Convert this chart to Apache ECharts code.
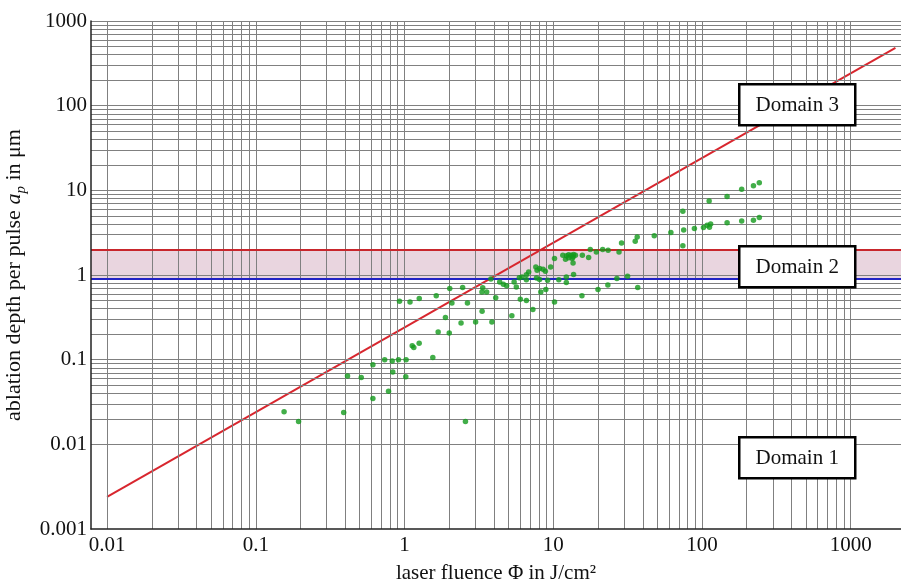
<!DOCTYPE html>
<html>
<head>
<meta charset="utf-8">
<script src="https://cdn.jsdelivr.net/npm/echarts@6/dist/echarts.min.js"></script>
<style>html,body{margin:0;padding:0;background:#fff}#chart{width:901px;height:583px}</style>
</head>
<body>
<div id="chart"></div>
<script>
// ---- data ----
const fluence = [0.155,0.194,0.39,0.414,0.512,0.613,0.613,0.736,0.781,0.827,0.834,0.911,1.025,1.02,1.127,1.155,1.255,1.55,1.684,2.0,2.40,1.885,2.57,0.926,1.089,1.257,1.635,2.015,2.084,2.46,2.65,3.007,3.325,3.87,3.357,3.316,3.571,4.105,5.27,6.01,6.60,7.30,10.2,8.25,8.92,3.81,4.365,4.62,4.86,5.46,5.65,5.92,6.17,6.60,6.84,6.60,7.64,7.79,8.10,8.54,7.72,8.10,8.85,9.61,10.2,9.17,10.9,11.6,12.3,12.7,13.2,12.1,12.7,12.25,12.25,13.7,13.7,14.1,13.6,13.4,13.6,15.7,17.3,17.75,19.5,21.5,23.4,27.7,28.8,35.6,36.7,47.8,61.8,26.8,31.6,20.0,23.3,37.0,15.6,74.4,74.4,111.8,147.6,185,222,243,75.4,89.0,102.4,108.4,114.4,112.3,147.6,185,222,243];
const depth = [0.0243,0.0186,0.0237,0.064,0.0614,0.087,0.0347,0.1,0.0423,0.0963,0.0714,0.1,0.1,0.063,0.146,0.139,0.156,0.106,0.212,0.206,0.271,0.3145,0.0186,0.49,0.481,0.528,0.569,0.692,0.468,0.712,0.468,0.279,0.373,0.279,0.708,0.63,0.63,0.539,0.33,0.518,0.501,0.391,0.48,0.631,0.676,0.897,0.829,0.779,0.747,0.829,0.723,0.929,0.95,1.008,1.085,0.88,1.247,1.14,1.193,1.171,0.924,0.885,1.109,1.247,1.567,0.868,0.88,1.714,1.69,1.738,1.714,1.537,1.60,0.95,0.815,1.014,1.747,1.714,1.637,1.567,1.39,1.714,1.61,2.0,1.875,2.0,1.964,1.875,2.39,2.51,2.82,2.90,3.18,0.909,0.968,0.676,0.764,0.712,0.569,5.68,2.21,7.46,8.47,10.3,11.3,12.3,3.39,3.55,3.64,3.88,3.99,3.67,4.13,4.33,4.44,4.78];
const thresholdX = [0.01, 2000];
const thresholdY = [0.0024, 480];
const domain2Lower = 0.9;
const domain2Upper = 2;
const domainLabels = ['Domain 3', 'Domain 2', 'Domain 1'];
const xDecades = [0.01, 0.1, 1, 10, 100];
const xLastTick = 1000;
const yDecades = [0.001, 0.01, 0.1, 1, 10, 100];
const yLastTick = 1000;
const xRange = [0.0078, 2180];
const yRange = [0.001, 1000];

// ---- build ----
const serif = '"Liberation Serif", "Times New Roman", serif';
const minorSteps = [1,2,3,4,5,6,7,8,9];
const xGrid = [];
xDecades.forEach(d => minorSteps.forEach(k => xGrid.push(+(d * k).toPrecision(6))));
xGrid.push(xLastTick);
const yGrid = [];
yDecades.forEach(d => minorSteps.forEach(k => yGrid.push(+(d * k).toPrecision(6))));
yGrid.push(yLastTick);

const points = fluence.map((f, i) => [f, depth[i]]);
const lineData = thresholdX.map((x, i) => [x, thresholdY[i]]);
const fmt = v => String(+(+v).toPrecision(6));

const chart = echarts.init(document.getElementById('chart'), null, {renderer: 'canvas'});
const boxTops = [83, 245, 436];
chart.setOption({
  animation: false,
  backgroundColor: '#fff',
  grid: {left: 91, top: 21, right: 0, bottom: 54, containLabel: false, outerBoundsMode: 'none'},
  xAxis: {
    type: 'log', logBase: 10, min: xRange[0], max: xRange[1], splitNumber: 5, z: 8,
    axisLine: {show: true, lineStyle: {color: '#222', width: 1.5}},
    axisTick: {show: false},
    splitLine: {show: false},
    axisLabel: {showMinLabel: false, showMaxLabel: false, color: '#111', fontFamily: serif, fontSize: 21, margin: 6, formatter: fmt},
    name: 'laser fluence Φ in J/cm²', nameLocation: 'middle', nameGap: 34,
    nameTextStyle: {color: '#111', fontFamily: serif, fontSize: 21}
  },
  yAxis: {
    type: 'log', logBase: 10, min: yRange[0], max: yRange[1], splitNumber: 6, z: 8,
    axisLine: {show: true, lineStyle: {color: '#222', width: 1.5}},
    axisTick: {show: false},
    splitLine: {show: false},
    axisLabel: {color: '#111', fontFamily: serif, fontSize: 21, margin: 4, formatter: fmt},
    name: '{n|ablation depth per pulse }{a|a}{p|p}{n| in μm}', nameLocation: 'middle', nameGap: 61,
    nameTextStyle: {
      color: '#111', fontFamily: serif, fontSize: 22,
      rich: {
        n: {fontFamily: serif, fontSize: 22, color: '#111', lineHeight: 30},
        a: {fontFamily: serif, fontSize: 22, color: '#111', fontStyle: 'italic', lineHeight: 30},
        p: {fontFamily: serif, fontSize: 15, color: '#111', fontStyle: 'italic', lineHeight: 15, verticalAlign: 'bottom'}
      }
    }
  },
  series: [
    {type: 'line', data: [], z: 1, silent: true,
     markArea: {silent: true, itemStyle: {color: '#e9d5df'}, data: [[{yAxis: domain2Lower}, {yAxis: domain2Upper}]]}},
    {type: 'line', data: [], z: 2, silent: true,
     markLine: {silent: true, symbol: 'none', label: {show: false}, lineStyle: {color: '#808080', width: 1, type: 'solid'},
       emphasis: {disabled: true},
       data: xGrid.map(v => ({xAxis: v})).concat(yGrid.map(v => ({yAxis: v})))}},
    {type: 'line', data: [], z: 3, silent: true,
     markLine: {silent: true, symbol: 'none', label: {show: false}, emphasis: {disabled: true},
       data: [
         {yAxis: domain2Upper, lineStyle: {color: '#c8262c', width: 2, type: 'solid'}},
         {yAxis: domain2Lower, lineStyle: {color: '#2323c4', width: 2, type: 'solid'}}
       ]}},
    {type: 'line', data: lineData, z: 4, symbol: 'none', silent: true,
     lineStyle: {color: '#d8262e', width: 2}},
    {type: 'scatter', data: points, z: 5, symbol: 'circle', symbolSize: 5.5, silent: true,
     itemStyle: {color: '#139a1c'}}
  ],
  graphic: {
    elements: domainLabels.map((t, i) => ({
      type: 'group', left: 738, top: boxTops[i], z: 100, zlevel: 1,
      children: [
        {type: 'rect', z: 100, zlevel: 1, shape: {x: 0, y: 0, width: 116, height: 41},
         style: {fill: '#fff', stroke: '#000', lineWidth: 2.5}},
        {type: 'text', z: 101, zlevel: 1, x: 58, y: 21, style: {text: t, fill: '#111', font: '21px ' + serif, align: 'center', verticalAlign: 'middle'}}
      ]
    }))
  }
});
</script>
</body>
</html>
